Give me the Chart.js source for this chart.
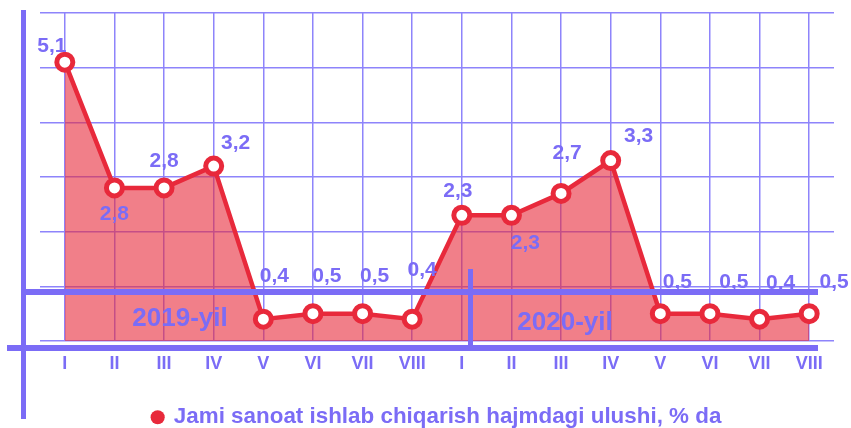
<!DOCTYPE html>
<html>
<head>
<meta charset="utf-8">
<script src="https://cdn.jsdelivr.net/npm/chart.js@4.4.0/dist/chart.umd.min.js"></script>
<style>
    html, body { margin: 0; padding: 0; background: #fff; }
    #wrap { width: 851px; height: 428px; }
</style>
</head>
<body>
<div id="wrap"><canvas id="chart"></canvas></div>
<script>
// months of 2019 and 2020 (Jan..Aug)
var months = ['I', 'II', 'III', 'IV', 'V', 'VI', 'VII', 'VIII', 'I', 'II', 'III', 'IV', 'V', 'VI', 'VII', 'VIII'];
var shares = [5.1, 2.8, 2.8, 3.2, 0.4, 0.5, 0.5, 0.4, 2.3, 2.3, 2.7, 3.3, 0.5, 0.5, 0.4, 0.5];
var yearNames = ['2019-yil', '2020-yil'];
var seriesName = 'Jami sanoat ishlab chiqarish hajmdagi ulushi, % da';
var yMin = 0;
var yMax = 6;

var PURPLE = '#7b6cf6';
var GRID = '#8e84fb';
var RED = '#e8293b';
var FONT = "'Liberation Sans', Arial, sans-serif";

// where each value label sits relative to its point
var labelShift = [
    [-13, -16], [0, 26], [0, -27], [22, -23], [11, -43], [14, -37], [12, -37], [10, -49],
    [-4, -24], [14, 28], [6, -40], [28, -24], [17, -31], [24, -31], [21, -36], [25, -31]
];

var decorPlugin = {
    id: 'decor',
    afterDatasetsDraw: function(chart) {
        var ctx = chart.ctx;
        ctx.save();
        ctx.strokeStyle = PURPLE;
        ctx.lineCap = 'butt';

        ctx.lineWidth = 5;
        ctx.beginPath();
        ctx.moveTo(23.5, 10); ctx.lineTo(23.5, 419);
        ctx.stroke();

        ctx.lineWidth = 6;
        ctx.beginPath();
        ctx.moveTo(7, 348); ctx.lineTo(818, 348);
        ctx.stroke();

        ctx.beginPath();
        ctx.moveTo(22, 292); ctx.lineTo(818, 292);
        ctx.stroke();

        ctx.lineWidth = 5;
        ctx.beginPath();
        ctx.moveTo(470.5, 269); ctx.lineTo(470.5, 349);
        ctx.stroke();

        ctx.fillStyle = PURPLE;
        ctx.font = 'bold 26px ' + FONT;
        ctx.textAlign = 'center';
        ctx.textBaseline = 'middle';
        ctx.fillText(yearNames[0], 180, 319);
        ctx.fillText(yearNames[1], 565, 323);
        ctx.restore();
    },
    afterDraw: function(chart) {
        var ctx = chart.ctx;
        var meta = chart.getDatasetMeta(0);
        ctx.save();
        ctx.fillStyle = PURPLE;
        ctx.font = 'bold 21px ' + FONT;
        ctx.textAlign = 'center';
        ctx.textBaseline = 'middle';
        meta.data.forEach(function(pt, i) {
            var txt = shares[i].toFixed(1).replace('.', ',');
            ctx.fillText(txt, pt.x + labelShift[i][0], pt.y + labelShift[i][1]);
        });
        ctx.restore();
    }
};

new Chart(document.getElementById('chart'), {
    type: 'line',
    data: {
        labels: months,
        datasets: [{
            label: seriesName,
            data: shares,
            borderColor: RED,
            borderWidth: 4.5,
            backgroundColor: 'rgba(232, 41, 59, 0.6)',
            fill: 'origin',
            tension: 0,
            pointRadius: 8,
            pointBorderWidth: 5,
            pointBackgroundColor: '#fff',
            pointBorderColor: RED
        }]
    },
    options: {
        responsive: true,
        maintainAspectRatio: false,
        animation: false,
        layout: {
            padding: { left: 40, right: 17, top: 11, bottom: -10.4 }
        },
        plugins: {
            tooltip: { enabled: false },
            legend: {
                position: 'bottom',
                labels: {
                    usePointStyle: true,
                    boxHeight: 10,
                    boxWidth: 10,
                    padding: 8,
                    color: PURPLE,
                    font: { family: FONT, size: 22.4, weight: 'bold' },
                    generateLabels: function() {
                        return [{
                            text: seriesName,
                            fillStyle: RED,
                            strokeStyle: RED,
                            lineWidth: 0,
                            pointStyle: 'circle',
                            fontColor: PURPLE
                        }];
                    }
                }
            }
        },
        scales: {
            x: {
                offset: true,
                afterFit: function(scale) { scale.height = 57; },
                grid: { color: GRID, lineWidth: 1.5, drawTicks: false, offset: false },
                border: { display: false },
                ticks: {
                    color: PURPLE,
                    padding: 12,
                    font: { family: FONT, size: 18, weight: 'bold' }
                }
            },
            y: {
                min: yMin,
                max: yMax,
                grid: { color: GRID, lineWidth: 1.5, drawTicks: false },
                border: { display: false },
                ticks: { display: false, stepSize: 1 }
            }
        }
    },
    plugins: [decorPlugin]
});
</script>
</body>
</html>
